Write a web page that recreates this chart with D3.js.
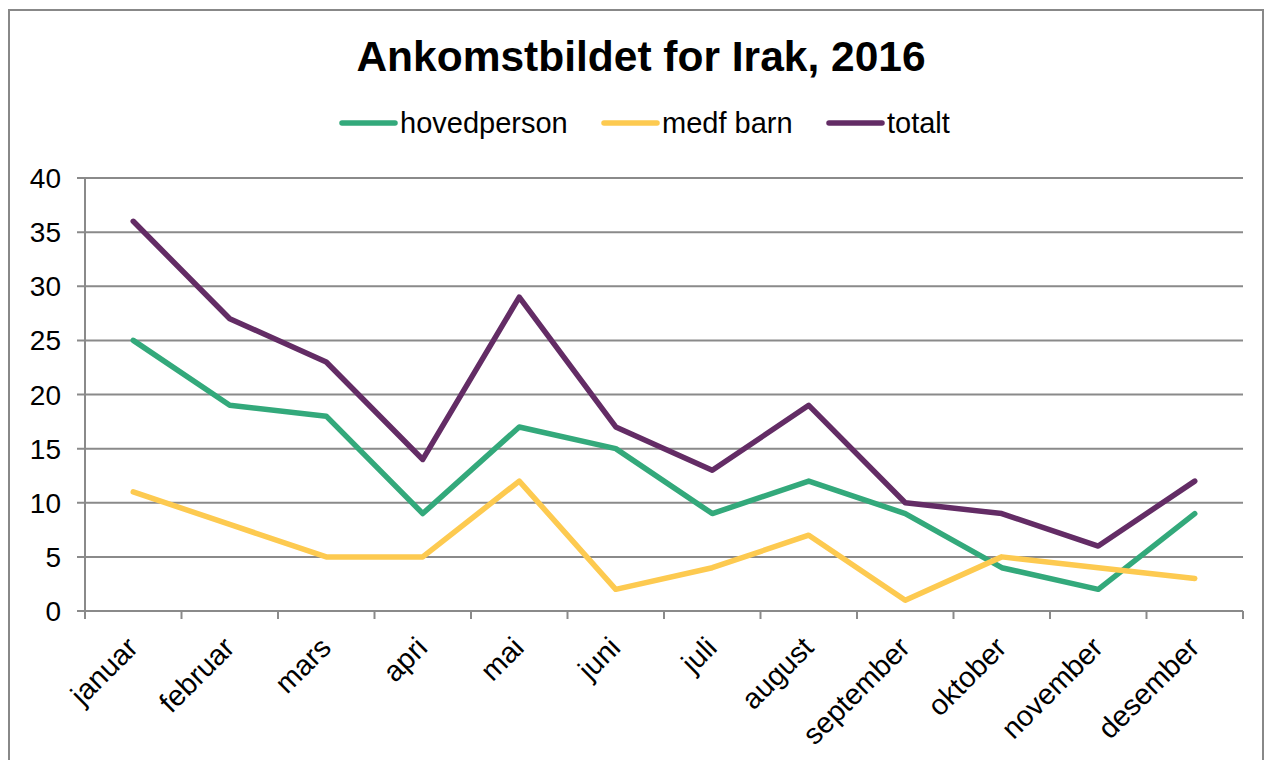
<!DOCTYPE html>
<html>
<head>
<meta charset="utf-8">
<script src="https://cdn.jsdelivr.net/npm/d3@7"></script>
<style>
  html, body { margin: 0; padding: 0; background: #fff; }
  svg { display: block; font-family: "Liberation Sans", Arial, sans-serif; }
</style>
</head>
<body>
<svg id="chart" width="1272" height="760"></svg>
<script>
const categories = ["januar","februar","mars","apri","mai","juni","juli","august","september","oktober","november","desember"];
const hovedperson = [25, 19, 18, 9, 17, 15, 9, 12, 9, 4, 2, 9];
const medfBarn    = [11, 8, 5, 5, 12, 2, 4, 7, 1, 5, 4, 3];
const totalt      = [36, 27, 23, 14, 29, 17, 13, 19, 10, 9, 6, 12];
const yTicks = [0, 5, 10, 15, 20, 25, 30, 35, 40];
const seriesNames = ["hovedperson", "medf barn", "totalt"];
const seriesColors = ["#33a97b", "#fdca50", "#632c65"];
const titleText = "Ankomstbildet for Irak, 2016";

const series = [
  { name: seriesNames[0], values: hovedperson, color: seriesColors[0] },
  { name: seriesNames[1], values: medfBarn, color: seriesColors[1] },
  { name: seriesNames[2], values: totalt, color: seriesColors[2] }
];

const svg = d3.select("#chart");
const gridColor = "#8a8a8a";

// outer border
svg.append("rect")
  .attr("x", 9).attr("y", 10).attr("width", 1254).attr("height", 770)
  .attr("fill", "#fff").attr("stroke", "#888").attr("stroke-width", 2);

const pLeft = 85, pRight = 1243, pTop = 178, pBottom = 611;

const x = d3.scaleBand().domain(categories).range([pLeft, pRight]).padding(0);
const y = d3.scaleLinear().domain([0, 40]).range([pBottom, pTop]);

// gridlines
svg.append("g")
  .selectAll("line").data(yTicks).join("line")
  .attr("x1", pLeft - 8).attr("x2", pRight)
  .attr("y1", d => y(d)).attr("y2", d => y(d))
  .attr("stroke", gridColor).attr("stroke-width", 2);

// y axis line
svg.append("line")
  .attr("x1", pLeft).attr("x2", pLeft).attr("y1", pTop).attr("y2", pBottom + 8)
  .attr("stroke", gridColor).attr("stroke-width", 2);

// y labels
svg.append("g")
  .selectAll("text").data(yTicks).join("text")
  .attr("x", 61).attr("y", d => y(d))
  .attr("dy", "0.36em")
  .attr("text-anchor", "end")
  .attr("font-size", 28)
  .attr("fill", "#000")
  .text(d => d);

// x ticks at category boundaries
const boundaries = categories.map(c => x(c)).concat([pRight]);
svg.append("g")
  .selectAll("line").data(boundaries).join("line")
  .attr("x1", d => d).attr("x2", d => d)
  .attr("y1", pBottom).attr("y2", pBottom + 8)
  .attr("stroke", gridColor).attr("stroke-width", 2);

// x labels
svg.append("g")
  .selectAll("text").data(categories).join("text")
  .attr("transform", d => `translate(${x(d) + x.bandwidth() / 2 - 1},${pBottom + 31}) rotate(-45)`)
  .attr("text-anchor", "end")
  .attr("dy", "0.36em")
  .attr("font-size", 29)
  .attr("fill", "#000")
  .text(d => d);

// lines
const line = d3.line()
  .x((d, i) => x(categories[i]) + x.bandwidth() / 2)
  .y(d => y(d));

svg.append("g")
  .selectAll("path").data(series).join("path")
  .attr("d", s => line(s.values))
  .attr("fill", "none")
  .attr("stroke", s => s.color)
  .attr("stroke-width", 5.5)
  .attr("stroke-linejoin", "round")
  .attr("stroke-linecap", "round");

// title
svg.append("text")
  .attr("x", 641).attr("y", 71)
  .attr("text-anchor", "middle")
  .attr("font-size", 42.5)
  .attr("font-weight", "bold")
  .attr("fill", "#000")
  .text(titleText);

// legend
const legendY = 123;
const legendStarts = [340, 602, 827];
const lg = svg.append("g");
series.forEach((s, i) => {
  const lx = legendStarts[i];
  lg.append("line")
    .attr("x1", lx + 2).attr("x2", lx + 55)
    .attr("y1", legendY).attr("y2", legendY)
    .attr("stroke", s.color).attr("stroke-width", 5.5)
    .attr("stroke-linecap", "round");
  lg.append("text")
    .attr("x", lx + 60).attr("y", legendY)
    .attr("dy", "0.36em")
    .attr("font-size", 29)
    .attr("fill", "#000")
    .text(s.name);
});
</script>
</body>
</html>
